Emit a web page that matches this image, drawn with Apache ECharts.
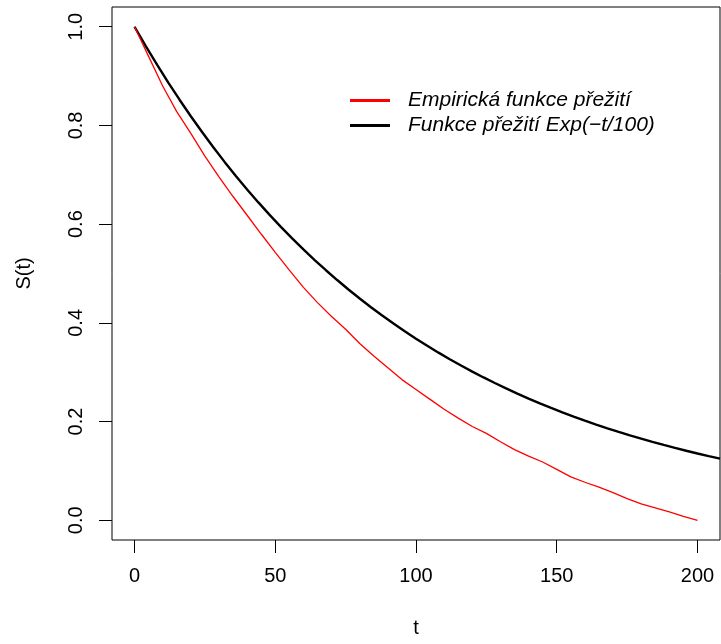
<!DOCTYPE html>
<html><head><meta charset="utf-8">
<script src="https://cdn.jsdelivr.net/npm/echarts@6/dist/echarts.min.js"></script>
<style>html,body{margin:0;padding:0;background:#fff}#c{width:721px;height:644px}</style>
</head><body><div id="c"></div>
<script>
const tRed = [0,5,10,15,20,25,30,35,40,45,50,55,60,65,70,75,80,85,90,95,100,105,110,115,120,125,130,135,140,145,150,155,160,165,170,175,180,185,190,195,200];
const sRed = [1.0,0.94,0.88,0.828,0.784,0.738,0.696,0.656,0.618,0.580,0.543,0.507,0.472,0.441,0.413,0.387,0.358,0.333,0.309,0.285,0.265,0.245,0.225,0.207,0.190,0.176,0.159,0.143,0.130,0.118,0.103,0.088,0.077,0.067,0.056,0.044,0.033,0.025,0.017,0.008,0.0];
// Exponential survival curve values
const tExp = [0,4,8,12,16,20,24,28,32,36,40,44,48,52,56,60,64,68,72,76,80,84,88,92,96,100,104,108,112,116,120,124,128,132,136,140,144,148,152,156,160,164,168,172,176,180,184,188,192,196,200,204,208];
const sExp = [1.0,0.96079,0.92312,0.88692,0.85214,0.81873,0.78663,0.75578,0.72615,0.69768,0.67032,0.64404,0.61878,0.59452,0.57121,0.54881,0.52729,0.50662,0.48675,0.46767,0.44933,0.43171,0.41478,0.39852,0.38289,0.36788,0.35345,0.33960,0.32628,0.31349,0.30119,0.28938,0.27804,0.26714,0.25666,0.24660,0.23693,0.22764,0.21871,0.21014,0.20190,0.19398,0.18637,0.17907,0.17204,0.16530,0.15882,0.15259,0.14661,0.14086,0.13534,0.13003,0.12493];
const xTicks = [0,50,100,150,200];
const yTicks = [0,0.2,0.4,0.6,0.8,1.0];
const seriesNames = ['Empirická funkce přežití','Funkce přežití Exp(−t/100)'];
const xName = 't';
const yName = 'S(t)';

const FONT = "'Liberation Sans', Arial, Helvetica, sans-serif";
const chart = echarts.init(document.getElementById('c'), null, {renderer:'canvas'});
chart.setOption({
  backgroundColor:'#ffffff',
  animation:false,
  grid:{left:112, right:1, top:7, bottom:104, show:true, borderColor:'#000', borderWidth:1, backgroundColor:'transparent'},
  legend:{
    show:true, orient:'vertical', left:350, top:90, padding:0, itemGap:4,
    itemWidth:40, itemHeight:3, icon:'rect',
    data: seriesNames,
    textStyle:{fontFamily:FONT, fontStyle:'italic', fontSize:21, color:'#000', padding:[0,0,0,13]}
  },
  xAxis:{
    type:'value', min:-8, max:208,
    name:xName, nameLocation:'middle', nameGap:78,
    nameTextStyle:{fontFamily:FONT, fontSize:20, color:'#000'},
    axisLine:{show:false, onZero:false},
    splitLine:{show:false},
    axisTick:{show:true, length:13, customValues:xTicks, lineStyle:{color:'#000', width:1}},
    axisLabel:{show:true, customValues:xTicks, margin:26, fontFamily:FONT, fontSize:20, color:'#000'}
  },
  yAxis:{
    type:'value', min:-0.04, max:1.04,
    name:yName, nameLocation:'middle', nameGap:78,
    nameTextStyle:{fontFamily:FONT, fontSize:20, color:'#000'},
    axisLine:{show:false, onZero:false},
    splitLine:{show:false},
    axisTick:{show:true, length:13, customValues:yTicks, lineStyle:{color:'#000', width:1}},
    axisLabel:{show:true, customValues:yTicks, rotate:90, margin:26, fontFamily:FONT, fontSize:20, color:'#000',
      formatter:function(v){return Number(v).toFixed(1);}}
  },
  series:[
    {name:seriesNames[0], type:'line', showSymbol:false, symbol:'none', color:'#ff0000',
     lineStyle:{color:'#ff0000', width:1.3}, data:tRed.map((t,i)=>[t,sRed[i]]), z:3},
    {name:seriesNames[1], type:'line', showSymbol:false, symbol:'none', color:'#000000', clip:true,
     lineStyle:{color:'#000000', width:2.4}, data:tExp.map((t,i)=>[t,sExp[i]]), z:2}
  ]
});
</script></body></html>
